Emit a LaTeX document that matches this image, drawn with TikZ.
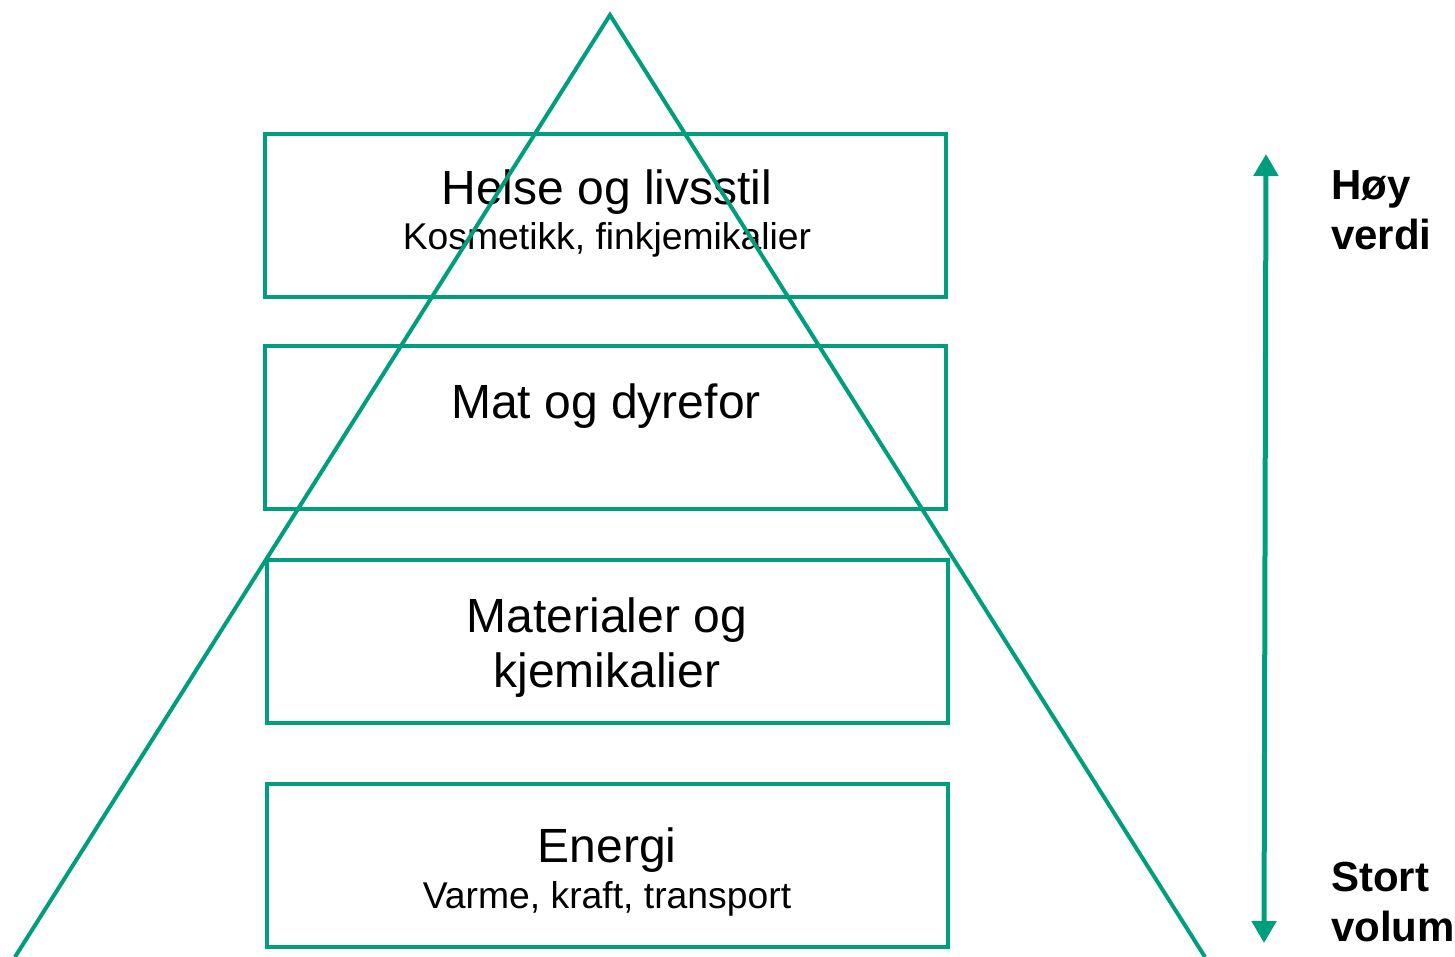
\documentclass[tikz,border=0pt]{standalone}
\usepackage{fontspec}
\setmainfont{Liberation Sans}
\usetikzlibrary{arrows.meta}
\definecolor{teal1}{RGB}{0,158,125}
\begin{document}
\begin{tikzpicture}[x=1pt,y=-1pt,
  tier/.style={draw=teal1,line width=4pt,minimum width=681pt,minimum height=163pt,inner sep=0pt},
  bigtxt/.style={font=\fontsize{48}{55}\selectfont,anchor=base,inner sep=0pt},
  smalltxt/.style={font=\fontsize{37.3}{43}\selectfont,anchor=base,inner sep=0pt},
  sidetxt/.style={font=\fontsize{42}{48}\selectfont\bfseries,anchor=base west,inner sep=0pt}]
\useasboundingbox (0,0) rectangle (1455,957);
% boxes
\node[tier] (b1) at (605.5,215.5) {};
\node[tier] (b2) at (605.5,427.5) {};
\node[tier] (b3) at (607.5,641) {};
\node[tier] (b4) at (607.5,865) {};
% texts
\node[bigtxt] (t1) at (607,205) {Helse og livsstil};
\node[smalltxt] (s1) at (607,250) {Kosmetikk, finkjemikalier};
\node[bigtxt] (t2) at (606,418) {Mat og dyrefor};
\node[bigtxt] (t3a) at (607,632) {Materialer og};
\node[bigtxt] (t3b) at (607,687) {kjemikalier};
\node[bigtxt] (t4) at (607,862) {Energi};
\node[smalltxt] (s4) at (607,908) {Varme, kraft, transport};
% triangle
\coordinate (apex) at (610,15);
\coordinate (bl) at (15,957);
\coordinate (br) at (1205,957);
\draw[teal1,line width=4pt,line join=miter] (bl) -- (apex) -- (br);
% arrow
\coordinate (atop) at (1266,154);
\coordinate (abot) at (1264,943);
\draw[teal1,line width=5pt,{Triangle[width=24pt,length=22pt]}-{Triangle[width=24pt,length=22pt]}] (atop) -- (abot);
% side labels
\node[sidetxt] (h1) at (1331,200) {Høy};
\node[sidetxt] (h2) at (1331,250) {verdi};
\node[sidetxt] (v1) at (1331,891) {Stort};
\node[sidetxt] (v2) at (1331,941) {volum};
\end{tikzpicture}
\end{document}
